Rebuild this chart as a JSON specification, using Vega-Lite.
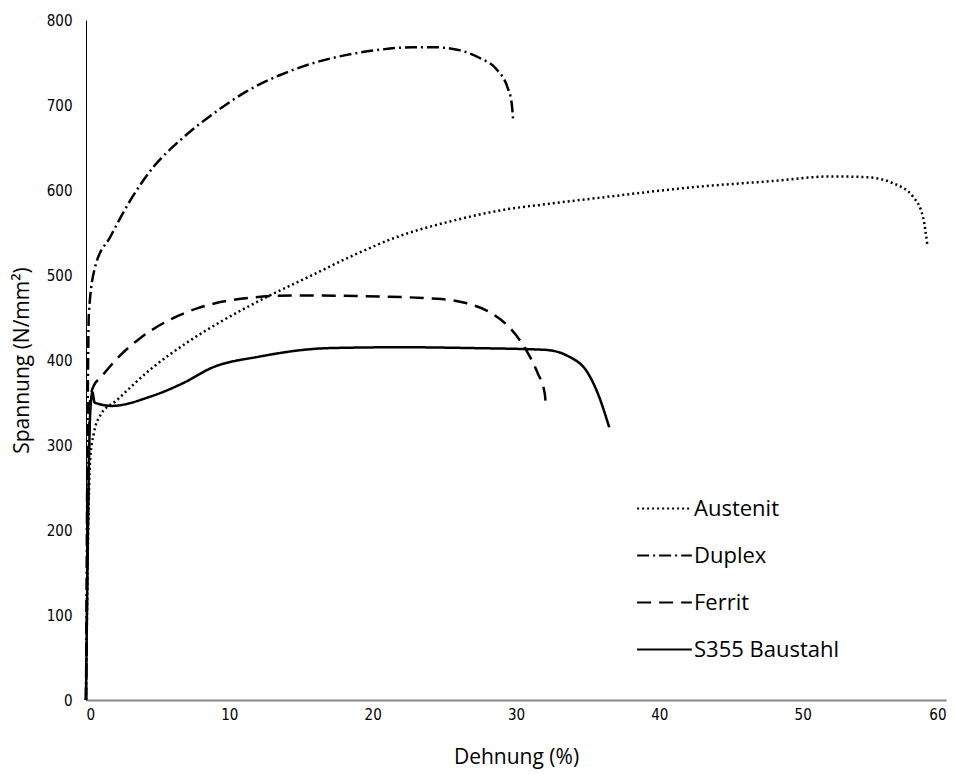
{
  "$schema": "https://vega.github.io/schema/vega-lite/v6.json",
  "autosize": {"type": "none"},
  "width": 860,
  "height": 680,
  "padding": {"left": 86, "top": 20, "right": 14, "bottom": 74},
  "background": "white",
  "config": {
    "view": {"stroke": null},
    "font": "Open Sans",
    "axis": {"grid": false, "ticks": false, "labelFont": "DejaVu Sans Condensed, Roboto", "labelFontSize": 15, "labelColor": "black", "titleFont": "Open Sans", "titleFontSize": 21, "titleFontWeight": "normal", "titleColor": "black"}
  },
  "data": {"values": [
    {"s": "Austenit", "x": 0, "y": 0},
    {"s": "Austenit", "x": 0.15, "y": 200},
    {"s": "Austenit", "x": 0.3, "y": 285},
    {"s": "Austenit", "x": 0.55, "y": 314},
    {"s": "Austenit", "x": 1.0, "y": 335},
    {"s": "Austenit", "x": 2.1, "y": 352},
    {"s": "Austenit", "x": 4.5, "y": 389},
    {"s": "Austenit", "x": 7.0, "y": 420},
    {"s": "Austenit", "x": 9.6, "y": 447},
    {"s": "Austenit", "x": 12.6, "y": 474},
    {"s": "Austenit", "x": 15.8, "y": 500},
    {"s": "Austenit", "x": 18.5, "y": 522},
    {"s": "Austenit", "x": 21.9, "y": 546},
    {"s": "Austenit", "x": 25.4, "y": 563},
    {"s": "Austenit", "x": 28.9, "y": 576},
    {"s": "Austenit", "x": 32.4, "y": 584},
    {"s": "Austenit", "x": 35.9, "y": 591},
    {"s": "Austenit", "x": 39.4, "y": 598},
    {"s": "Austenit", "x": 42.8, "y": 604},
    {"s": "Austenit", "x": 47.5, "y": 610},
    {"s": "Austenit", "x": 52.1, "y": 616},
    {"s": "Austenit", "x": 54.5, "y": 615},
    {"s": "Austenit", "x": 56.3, "y": 608},
    {"s": "Austenit", "x": 57.7, "y": 592},
    {"s": "Austenit", "x": 58.4, "y": 568},
    {"s": "Austenit", "x": 58.7, "y": 535},
    {"s": "Duplex", "x": 0, "y": 0},
    {"s": "Duplex", "x": 0.1, "y": 300},
    {"s": "Duplex", "x": 0.2, "y": 455},
    {"s": "Duplex", "x": 0.63, "y": 509},
    {"s": "Duplex", "x": 1.7, "y": 545},
    {"s": "Duplex", "x": 3.1, "y": 588},
    {"s": "Duplex", "x": 4.7, "y": 627},
    {"s": "Duplex", "x": 6.6, "y": 659},
    {"s": "Duplex", "x": 8.9, "y": 690},
    {"s": "Duplex", "x": 11.2, "y": 716},
    {"s": "Duplex", "x": 13.5, "y": 735},
    {"s": "Duplex", "x": 15.8, "y": 749},
    {"s": "Duplex", "x": 18.2, "y": 759},
    {"s": "Duplex", "x": 20.5, "y": 765},
    {"s": "Duplex", "x": 22.8, "y": 768},
    {"s": "Duplex", "x": 24.2, "y": 768},
    {"s": "Duplex", "x": 25.9, "y": 765},
    {"s": "Duplex", "x": 27.5, "y": 755},
    {"s": "Duplex", "x": 28.7, "y": 741},
    {"s": "Duplex", "x": 29.4, "y": 721},
    {"s": "Duplex", "x": 29.7, "y": 702},
    {"s": "Duplex", "x": 29.8, "y": 682},
    {"s": "Ferrit", "x": 0, "y": 0},
    {"s": "Ferrit", "x": 0.3, "y": 355},
    {"s": "Ferrit", "x": 0.55, "y": 370},
    {"s": "Ferrit", "x": 1.0, "y": 379},
    {"s": "Ferrit", "x": 2.3, "y": 404},
    {"s": "Ferrit", "x": 3.8, "y": 426},
    {"s": "Ferrit", "x": 5.8, "y": 447},
    {"s": "Ferrit", "x": 7.8, "y": 461},
    {"s": "Ferrit", "x": 10.8, "y": 472},
    {"s": "Ferrit", "x": 14.5, "y": 476},
    {"s": "Ferrit", "x": 19.5, "y": 475},
    {"s": "Ferrit", "x": 24.5, "y": 472},
    {"s": "Ferrit", "x": 26.5, "y": 467},
    {"s": "Ferrit", "x": 28.3, "y": 455},
    {"s": "Ferrit", "x": 29.5, "y": 439},
    {"s": "Ferrit", "x": 30.7, "y": 412},
    {"s": "Ferrit", "x": 31.5, "y": 385},
    {"s": "Ferrit", "x": 32.0, "y": 361},
    {"s": "Ferrit", "x": 32.1, "y": 344},
    {"s": "S355 Baustahl", "x": 0, "y": 0},
    {"s": "S355 Baustahl", "x": 0.3, "y": 340},
    {"s": "S355 Baustahl", "x": 0.45, "y": 362},
    {"s": "S355 Baustahl", "x": 0.6, "y": 350},
    {"s": "S355 Baustahl", "x": 1.8, "y": 346},
    {"s": "S355 Baustahl", "x": 4.5, "y": 357},
    {"s": "S355 Baustahl", "x": 6.8, "y": 373},
    {"s": "S355 Baustahl", "x": 8.8, "y": 391},
    {"s": "S355 Baustahl", "x": 12.1, "y": 404},
    {"s": "S355 Baustahl", "x": 17.0, "y": 414},
    {"s": "S355 Baustahl", "x": 22.0, "y": 415},
    {"s": "S355 Baustahl", "x": 27.0, "y": 414},
    {"s": "S355 Baustahl", "x": 32.0, "y": 412},
    {"s": "S355 Baustahl", "x": 33.7, "y": 404},
    {"s": "S355 Baustahl", "x": 35.0, "y": 385},
    {"s": "S355 Baustahl", "x": 35.7, "y": 361},
    {"s": "S355 Baustahl", "x": 36.5, "y": 321}
  ]},
  "mark": {"type": "line", "strokeWidth": 2.5, "interpolate": "monotone"},
  "encoding": {
    "x": {"field": "x", "type": "quantitative", "title": "Dehnung (%)",
      "scale": {"domain": [0, 60], "nice": false},
      "axis": {"values": [0, 10, 20, 30, 40, 50, 60], "domainColor": "#888", "domainWidth": 2, "labelPadding": 7, "titlePadding": 24}},
    "y": {"field": "y", "type": "quantitative", "title": "Spannung (N/mm²)",
      "scale": {"domain": [0, 800], "nice": false},
      "axis": {"values": [0, 100, 200, 300, 400, 500, 600, 700, 800], "domainColor": "black", "domainWidth": 1, "labelPadding": 14, "titlePadding": 14}},
    "color": {"field": "s", "type": "nominal", "scale": {"range": ["black", "black", "black", "black"]}, "legend": null},
    "strokeDash": {"field": "s", "type": "nominal", "title": null,
      "scale": {"domain": ["Austenit", "Duplex", "Ferrit", "S355 Baustahl"], "range": [[2, 3], [12, 4, 2, 4], [14, 8], [1, 0]]},
      "legend": {"orient": "none", "legendX": 550, "legendY": 460, "symbolType": "stroke", "symbolSize": 3000, "symbolStrokeWidth": 2, "symbolStrokeColor": "black", "labelFontSize": 22, "labelFont": "Open Sans", "labelColor": "black", "rowPadding": 7, "labelOffset": 1}}
  }
}
